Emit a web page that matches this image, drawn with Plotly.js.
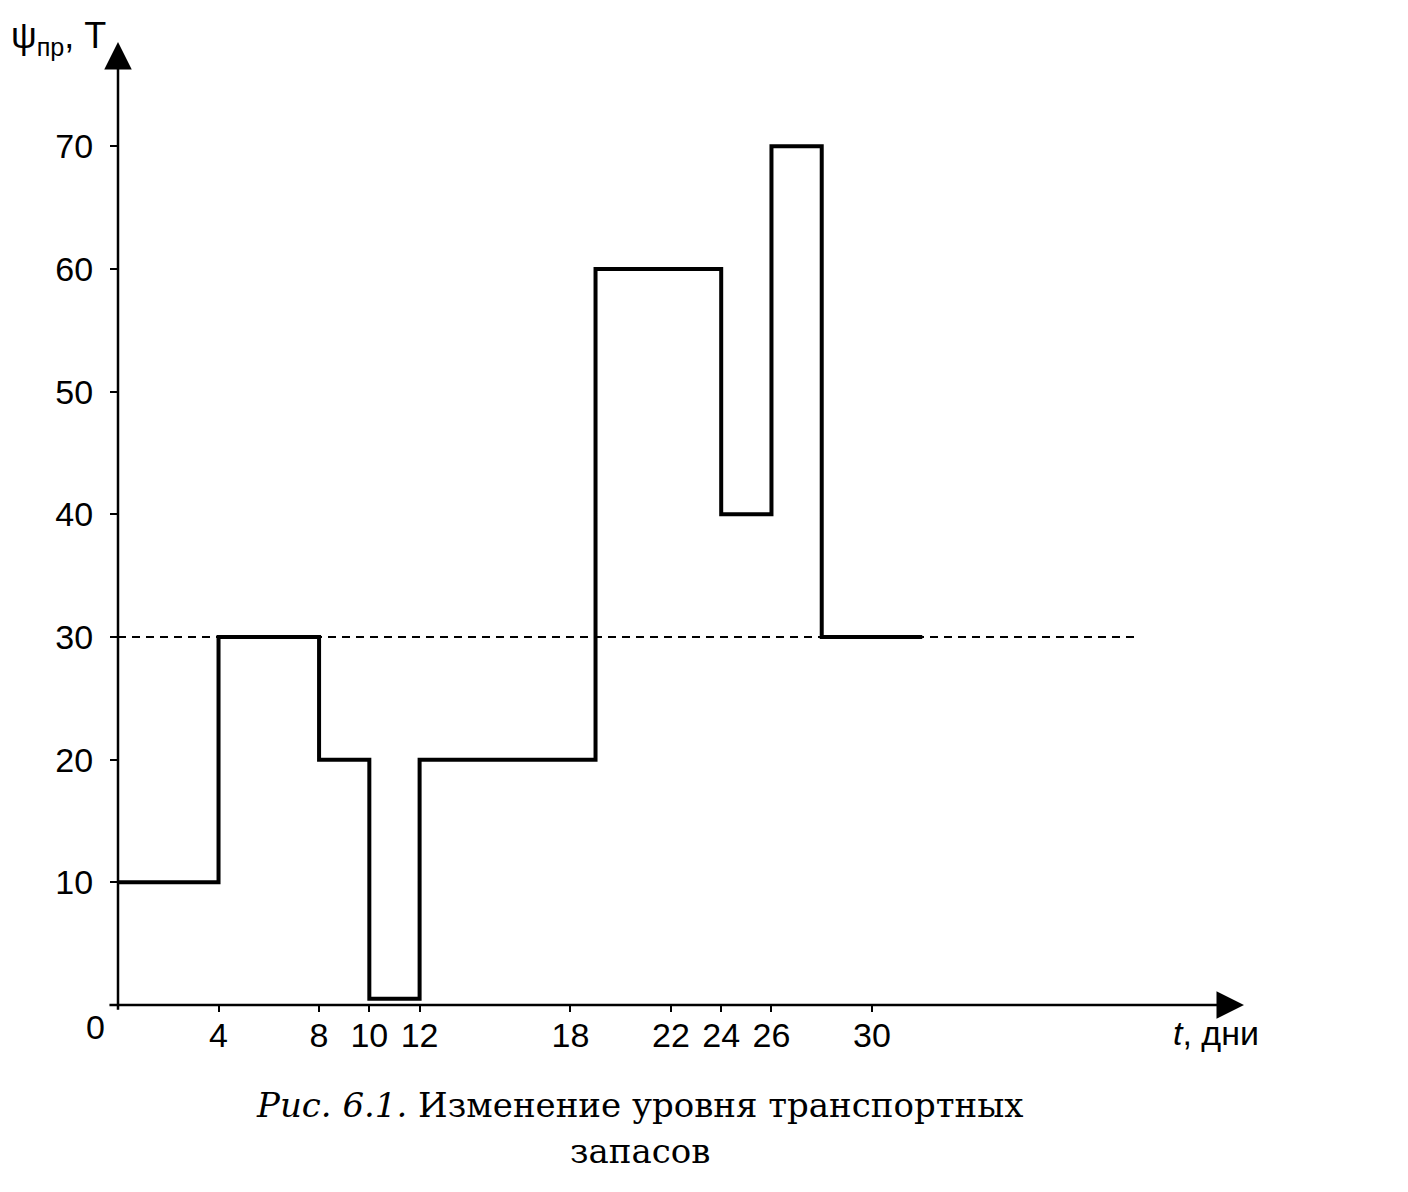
<!DOCTYPE html>
<html>
<head>
<meta charset="utf-8">
<script src="https://cdn.plot.ly/plotly-3.0.1.min.js"></script>
<style>html,body{margin:0;padding:0;background:#fff;}#chart{width:1408px;height:1192px;}</style>
</head>
<body>
<div id="chart"></div>
<script>
// Data
const stepEdges = [0, 4, 8, 10, 12, 19, 24, 26, 28, 32];    // days where the level changes
const stockLevels = [10, 30, 20, 0.5, 20, 60, 40, 70, 30];   // level on each interval, т
const normLevel = 30;                                        // dashed reference level
const normRange = [0, 40.5];
const xTickVals = [4, 8, 10, 12, 18, 22, 24, 26, 30];
const xTickText = ['4', '8', '10', '12', '18', '22', '24', '26', '30'];
const yTickVals = [10, 20, 30, 40, 50, 60, 70];
const yTickText = ['10', '20', '30', '40', '50', '60', '70'];
const xMax = 45, yMax = 78.5;

const stepY = stockLevels.concat([stockLevels[stockLevels.length - 1]]);

const traces = [
  {
    x: [normRange[0], normRange[1]], y: [normLevel, normLevel],
    mode: 'lines', line: {color: '#000', width: 2, dash: '8px,6px'},
    hoverinfo: 'skip', cliponaxis: false
  },
  {
    x: stepEdges, y: stepY,
    mode: 'lines', line: {color: '#000', width: 4, shape: 'hv'},
    hoverinfo: 'skip', cliponaxis: false
  }
];

const tickFont = {family: 'Liberation Sans, Arial, sans-serif', size: 34, color: '#000'};

const layout = {
  width: 1408, height: 1192,
  margin: {l: 118, r: 159, t: 42, b: 187},
  paper_bgcolor: '#fff', plot_bgcolor: '#fff',
  showlegend: false,
  xaxis: {
    range: [0, xMax], showgrid: false, zeroline: false, showline: false,
    tickmode: 'array', tickvals: xTickVals, ticktext: xTickText,
    ticks: 'outside', ticklen: 6, tickwidth: 2, tickcolor: '#000',
    tickfont: tickFont, ticklabelstandoff: -6
  },
  yaxis: {
    range: [0, yMax], showgrid: false, zeroline: false, showline: false,
    tickmode: 'array', tickvals: yTickVals, ticktext: yTickText,
    ticks: 'outside', ticklen: 7, tickwidth: 2, tickcolor: '#000',
    tickfont: tickFont, ticklabelstandoff: 10
  },
  annotations: [
    // x axis with arrow
    {x: 44.8, y: 0, ax: -0.4, ay: 0, xref: 'x', yref: 'y', axref: 'x', ayref: 'y',
     text: '', showarrow: true, arrowhead: 2, arrowsize: 2.2, arrowwidth: 2.5, arrowcolor: '#000'},
    // y axis with arrow
    {x: 0, y: yMax, ax: 0, ay: -0.5, xref: 'x', yref: 'y', axref: 'x', ayref: 'y',
     text: '', showarrow: true, arrowhead: 2, arrowsize: 2.2, arrowwidth: 2.5, arrowcolor: '#000'},
    // origin label
    {x: 0, y: 0, xref: 'x', yref: 'y', text: '0', showarrow: false,
     xanchor: 'center', yanchor: 'middle', xshift: -23, yshift: -22, font: tickFont},
    // axis titles
    {x: 0, y: 1, xref: 'paper', yref: 'paper', text: 'ψ<sub>пр</sub>, Т', showarrow: false,
     xanchor: 'right', yanchor: 'middle', xshift: -10, yshift: 4,
     font: {family: 'Liberation Sans, Arial, sans-serif', size: 36, color: '#000'}},
    {x: 1, y: 0, xref: 'paper', yref: 'paper', text: '<i>t</i>, дни', showarrow: false,
     xanchor: 'right', yanchor: 'middle', xshift: 12, yshift: -28,
     font: {family: 'Liberation Sans, Arial, sans-serif', size: 34, color: '#000'}},
    // caption
    {x: 0.4615, y: 0, xref: 'paper', yref: 'paper',
     text: '<i>Рис. 6.1.</i> Изменение уровня транспортных', showarrow: false,
     xanchor: 'center', yanchor: 'middle', yshift: -100,
     font: {family: 'DejaVu Serif, Liberation Serif, serif', size: 34, color: '#000'}},
    {x: 0.4615, y: 0, xref: 'paper', yref: 'paper',
     text: 'запасов', showarrow: false,
     xanchor: 'center', yanchor: 'middle', yshift: -146,
     font: {family: 'DejaVu Serif, Liberation Serif, serif', size: 34, color: '#000'}}
  ]
};

Plotly.newPlot('chart', traces, layout, {displayModeBar: false, staticPlot: true});
</script>
</body>
</html>
